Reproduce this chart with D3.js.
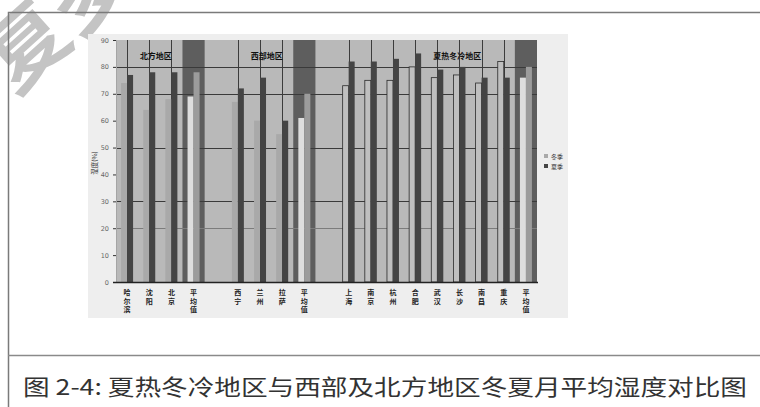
<!DOCTYPE html>
<html>
<head>
<meta charset="utf-8">
<script src="https://cdn.jsdelivr.net/npm/d3@7"></script>
<style>
  html, body { margin: 0; padding: 0; background: #fff; }
  svg { display: block; font-family: "Noto Sans CJK SC", "Noto Sans", sans-serif; }
</style>
</head>
<body>
<svg id="chart" width="760" height="407"></svg>
<script>
// Regions and their cities (average column last in each region)
const regionNames = ["北方地区", "西部地区", "夏热冬冷地区"];
const northCities = ["哈尔滨", "沈阳", "北京", "平均值"];
const westCities = ["西宁", "兰州", "拉萨", "平均值"];
const hsccCities = ["上海", "南京", "杭州", "合肥", "武汉", "长沙", "南昌", "重庆", "平均值"];

// Monthly mean relative humidity (%), winter and summer
const northWinter = [74, 64, 68, 69];
const northSummer = [77, 78, 78, 78];
const westWinter = [67, 60, 55, 61];
const westSummer = [72, 76, 60, 70];
const hsccWinter = [73, 75, 75, 80, 76, 77, 74, 82, 76];
const hsccSummer = [82, 82, 83, 85, 79, 80, 76, 76, 80];

const seasons = ["冬季", "夏季"];
const yTicks = [0, 10, 20, 30, 40, 50, 60, 70, 80, 90];
const gridStrong = [30, 50, 70, 80];
const gridSoft = [20];
const caption = "图 2-4:  夏热冬冷地区与西部及北方地区冬夏月平均湿度对比图";

// Build flat slot list, one blank slot between regions
const regions = [
  { name: regionNames[0], cities: northCities, winter: northWinter, summer: northSummer },
  { name: regionNames[1], cities: westCities, winter: westWinter, summer: westSummer },
  { name: regionNames[2], cities: hsccCities, winter: hsccWinter, summer: hsccSummer }
];
const rows = [];
const slots = [];
regions.forEach((r, ri) => {
  if (ri > 0) slots.push("gap" + ri);
  r.cities.forEach((c, ci) => {
    const id = ri + "-" + c;
    slots.push(id);
    rows.push({ id, city: c, region: ri, isAvg: ci === r.cities.length - 1,
                winter: r.winter[ci], summer: r.summer[ci] });
  });
});

const svg = d3.select("#chart");

// Faint diagonal watermark across the upper left corner
svg.append("text")
  .attr("transform", "translate(14,96) rotate(-42)")
  .attr("font-size", 84).attr("fill", "#c4c4c4")
  .attr("font-weight", "bold")
  .text("复多，");

// Document frame and caption row
svg.append("path")
  .attr("d", "M770,12.5 H8.5 V420")
  .attr("fill", "none").attr("stroke", "#7a7a7a").attr("stroke-width", 1.5);
svg.append("line").attr("x1", 8).attr("x2", 770).attr("y1", 355.5).attr("y2", 355.5)
  .attr("stroke", "#8a8a8a").attr("stroke-width", 1.5);
svg.append("text")
  .attr("x", 23).attr("y", 395)
  .attr("textLength", 724).attr("lengthAdjust", "spacingAndGlyphs")
  .attr("font-size", 22).attr("fill", "#333")
  .text(caption);

// Chart panel
svg.append("rect").attr("x", 88).attr("y", 34).attr("width", 480).attr("height", 284)
  .attr("fill", "#eeeeee");

const plot = { left: 116, right: 537, top: 40, bottom: 282 };

const x = d3.scaleBand().domain(slots).range([plot.left, plot.right]).padding(0);
const y = d3.scaleLinear().domain([0, 90]).range([plot.bottom, plot.top]);
const barW = 6;
const xs = d3.scaleBand().domain(seasons).range([-barW, barW]).padding(0);

// Plot background
svg.append("rect").attr("x", plot.left).attr("y", plot.top)
  .attr("width", plot.right - plot.left).attr("height", plot.bottom - plot.top)
  .attr("fill", "#b9b9b9");

// Dark background column behind each regional average
svg.append("g").selectAll("rect").data(rows.filter(d => d.isAvg)).join("rect")
  .attr("x", d => x(d.id)).attr("y", plot.top)
  .attr("width", x.bandwidth()).attr("height", plot.bottom - plot.top)
  .attr("fill", "#5e5e5e");

// Horizontal gridlines
const gridG = svg.append("g");
gridG.selectAll("line.s").data(gridStrong).join("line").attr("class", "s")
  .attr("x1", plot.left).attr("x2", plot.right)
  .attr("y1", d => Math.round(y(d)) + 0.5).attr("y2", d => Math.round(y(d)) + 0.5)
  .attr("stroke", "#3a3a3a").attr("stroke-width", 1.2);
gridG.selectAll("line.w").data(gridSoft).join("line").attr("class", "w")
  .attr("x1", plot.left).attr("x2", plot.right)
  .attr("y1", d => Math.round(y(d)) + 0.5).attr("y2", d => Math.round(y(d)) + 0.5)
  .attr("stroke", "#7c7c7c").attr("stroke-width", 1);

// Thin vertical lines through each city column
svg.append("g").selectAll("line").data(rows.filter(d => !d.isAvg)).join("line")
  .attr("x1", d => Math.round(x(d.id) + x.bandwidth() / 2) + 0.5)
  .attr("x2", d => Math.round(x(d.id) + x.bandwidth() / 2) + 0.5)
  .attr("y1", plot.top).attr("y2", plot.bottom)
  .attr("stroke", "#3c3c3c").attr("stroke-width", 1);

// Bars
const barG = svg.append("g");
rows.forEach(d => {
  const cx = x(d.id) + x.bandwidth() / 2;
  const g = barG.append("g").attr("transform", `translate(${cx},0)`);
  g.append("rect")
    .attr("x", xs("冬季")).attr("width", xs.bandwidth())
    .attr("y", y(d.winter)).attr("height", y(0) - y(d.winter))
    .attr("fill", d.isAvg ? "#dedede" : (d.region === 2 ? "#bfbfbf" : "#a9a9a9"))
    .attr("stroke", d.region === 2 && !d.isAvg ? "#2a2a2a" : "none")
    .attr("stroke-width", 0.8);
  g.append("rect")
    .attr("x", xs("夏季")).attr("width", xs.bandwidth())
    .attr("y", y(d.summer)).attr("height", y(0) - y(d.summer))
    .attr("fill", d.isAvg ? "#9c9c9c" : "#444444");
});

// Axes
const yAxis = d3.axisLeft(y).tickValues(yTicks).tickSize(3).tickPadding(4);
const yG = svg.append("g").attr("transform", `translate(${plot.left},0)`).call(yAxis);
yG.select(".domain").attr("stroke", "#a5a5a5");
yG.selectAll(".tick line").attr("stroke", "#333");
yG.selectAll(".tick text").attr("font-size", 6.5).attr("fill", "#666")
  .style("font-family", "'DejaVu Sans', sans-serif");

svg.append("line").attr("x1", plot.left - 3).attr("x2", plot.right + 1)
  .attr("y1", plot.bottom + 0.5).attr("y2", plot.bottom + 0.5)
  .attr("stroke", "#222").attr("stroke-width", 1.5);

svg.append("text")
  .attr("transform", `translate(97,${(plot.top + plot.bottom) / 2 + 2}) rotate(-90)`)
  .attr("text-anchor", "middle").attr("font-size", 6.5).attr("fill", "#333")
  .text("湿度(%)");

// Vertical category labels, one character per line
const labG = svg.append("g");
rows.forEach(d => {
  const cx = x(d.id) + x.bandwidth() / 2;
  const t = labG.append("text").attr("text-anchor", "middle")
    .attr("font-size", 7).attr("fill", "#222").attr("font-weight", "bold");
  Array.from(d.city).forEach((ch, i) => {
    t.append("tspan").attr("x", cx).attr("y", 295 + i * 8.5).text(ch);
  });
});

// Region titles inside the plot
svg.append("g").selectAll("text").data(regions).join("text")
  .attr("x", (r, i) => {
    const ids = rows.filter(d => d.region === i);
    const a = x(ids[0].id), b = x(ids[ids.length - 1].id) + x.bandwidth();
    return a + (b - a) * (i === 2 ? 0.6 : 0.45);
  })
  .attr("y", 59).attr("text-anchor", "middle")
  .attr("font-size", 8).attr("fill", "#111").attr("font-weight", "bold")
  .text(r => r.name);

// Legend
const legend = svg.append("g").attr("transform", "translate(544,154)");
seasons.forEach((s, i) => {
  legend.append("rect").attr("x", 0).attr("y", i * 10).attr("width", 4).attr("height", 4)
    .attr("fill", i === 0 ? "#a9a9a9" : "#444");
  legend.append("text").attr("x", 7).attr("y", i * 10 + 4.5)
    .attr("font-size", 6).attr("fill", "#333").text(s);
});
</script>
</body>
</html>
